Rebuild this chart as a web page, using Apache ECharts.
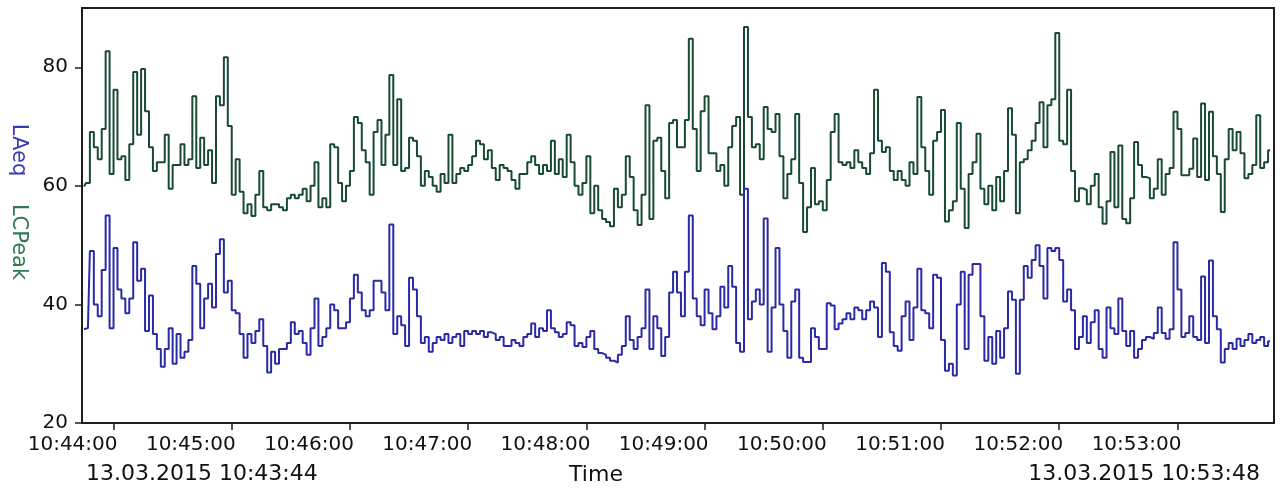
<!DOCTYPE html>
<html>
<head>
<meta charset="utf-8">
<script src="https://cdn.jsdelivr.net/npm/echarts@6/dist/echarts.min.js"></script>
<style>
html,body{margin:0;padding:0;background:#fff;}
#chart{width:1281px;height:492px;}
</style>
</head>
<body>
<div id="chart"></div>
<script>
// Time window: 13.03.2015 10:43:44 .. 10:53:48, samples every 2 s
const startLabel = '13.03.2015 10:43:44';
const endLabel = '13.03.2015 10:53:48';
const axisTitle = 'Time';
const sampleSeconds = 2;
const xTickSeconds = [16, 76, 136, 196, 256, 316, 376, 436, 496, 556];
const xTickLabels = ['10:44:00','10:45:00','10:46:00','10:47:00','10:48:00','10:49:00','10:50:00','10:51:00','10:52:00','10:53:00'];
const yTicks = [20, 40, 60, 80];

const lcpeak = [
 59.9,60.5,69.1,66.5,64.5,69.6,82.7,62,76.2,64.5,65,61,67,79.2,68.6,79.7,72.6,66.5,62.5,64,64,68.6,59.5,63.5,63.5,67,63.5,64.5,75.1,63,68.1,63.5,66,60.5,75.1,73.6,81.7,70.1,58.5,64.5,59,55.4,56.9,54.9,58.5,62.5,56.4,55.9,56.9,56.9,56.4,
 55.9,57.9,58.5,57.9,58.5,59.5,57.4,60,64,56.4,57.9,56.4,67,66.5,60.5,57.4,60,62.5,71.6,70.6,66,64,58.5,69.1,71.1,63.5,68.6,78.7,63.5,74.6,62.5,63,68.1,67.6,65,60,62.5,61.5,60,59,62,60.5,68.6,60.5,62,63,62.5,63.5,65,67.6,
 67,64.5,66,63,61,63.5,63,62.5,61,59.5,62,62,64,65,63.5,62,63.5,62.5,67.6,62,64.5,61.5,68.6,64,60,58.5,60.5,65,55.4,60,55.9,54.4,53.9,53.2,59.5,56.4,58.5,65,61.5,55.9,53.4,58.5,73.6,54.4,67.6,68.1,62.5,57.9,70.6,71.1,66.5,
 66.5,71.1,84.8,69.6,62.5,72.6,75.1,65.5,65.5,62.5,63.5,60,66.5,70.1,71.6,58.5,86.8,71.6,66.5,67,64.5,73.3,69.6,69.1,72.1,65,57.9,62,64.5,72.1,60.5,52.2,56.4,63,56.9,57.4,55.9,61,69.1,72.1,64,63.5,64,63,66,64,63,62,65.5,76.2,67.6,
 65.7,66.5,62.5,61,62.5,61,60,64,62,75,66.5,62.5,58.5,67.6,69.1,72.8,54,55.9,57.4,70.6,59.5,52.9,62,64,68.8,59.5,56.9,60,55.9,61.5,57.4,62.5,73.1,68.6,55.4,64,64.5,66,67.6,70.6,74.1,66.5,73.6,74.6,85.8,67.6,67,76.2,62.5,57.4,
 59.6,59.3,56.9,60,62,56.4,53.6,57.4,65.7,56.4,66.8,54.4,53.7,57.9,67.4,63.5,61.5,61.3,57.9,59.5,64.5,58.5,62,63,72.5,69.6,61.8,61.8,62.9,68,61.5,73.9,61,72.5,65,62,55.6,64.5,69.6,66,69.1,65.5,61.3,62,63.5,71.9,63,64,66
];
const laeq = [
 35.8,36,49,40,38,45.8,55,36,49.5,42.5,41,38.5,41,50.5,44,46,35.5,41.5,35,32.5,29.5,32.5,36,30,35,31,32,34,46.5,43.5,36,41,43.5,39.5,48.5,51,42,44,39,38.5,35,31,35,33.5,35.5,37.5,33,28.5,32,30,32.5,
 32.5,33.5,37,35,35.5,33.5,31.5,36,41,33,34.5,36,40,39,36,36,37,41,45,42,39,38,39,44,44,42,39,53.5,35,38,36.5,33,44.5,42.5,38,33.5,34.5,32,33.5,34.5,34,35,33.5,34.5,35,33,35.5,35,35.5,35,
 35.5,34.5,35.3,35,34,34.5,33,33,34,33.5,33,34.5,35,36.8,34.5,36,35.5,39,36,35.3,34.5,35,37,36.5,33,33.5,32.8,34.5,35.5,32.5,31.8,31.5,31,30.5,30.2,31.5,33,38,34,32.5,34.5,36,42.5,32.5,38,36,31.3,34.5,42,45.5,42,
 38,45.5,55,41,38,36.5,42.5,38.5,35.8,38,43,39.5,46.5,43,33.5,32,59.5,37.5,40.5,42.5,40,54.5,32,39.5,49.5,40,35.5,31,40.5,42.5,31,30.3,30.3,36,34.5,32.5,32.5,40.2,39.8,35.8,36.8,37.5,38.5,37.5,39.5,39,37.5,39,40.5,39.5,34.5,
 47,45.5,35.3,33,32.2,38,40.5,34,39.5,46,39,38.5,36,45,44.5,34,28.8,30,28,40,45.5,32.5,45,46.8,46.8,38,30.5,34.5,30,35.5,31,36,42.2,40.8,28.3,40.8,46.5,44.5,47.5,50,46.5,41,49.5,49,49.5,47.5,40.5,42.5,39,32.5,
 34.5,38,33.5,37,39,32.5,31,39.5,36,35,41,35.5,33,35.5,31,32.5,34,34.5,34.2,35.2,39.5,35.2,34.2,35.8,50.5,42.5,34.5,35.2,38,34.5,34,44.7,33.5,47.4,38,35.8,30.2,32.5,33.5,32.5,34.2,33,34,35,33.5,34,34.5,33,33.8
];

const toPairs = arr => arr.map((v, i) => [i * sampleSeconds + sampleSeconds / 2, v]);

const chart = echarts.init(document.getElementById('chart'));
const font = 'DejaVu Sans';
chart.setOption({
  animation: false,
  backgroundColor: '#ffffff',
  grid: {
    left: 82, right: 7, top: 8, bottom: 69,
    show: true, borderColor: '#1e1e1e', borderWidth: 2, backgroundColor: '#ffffff'
  },
  xAxis: {
    type: 'value', min: 0, max: 605,
    splitLine: { show: false },
    axisLine: { show: true, lineStyle: { color: '#1e1e1e', width: 2 } },
    axisTick: { show: true, customValues: xTickSeconds, length: 7, lineStyle: { color: '#1e1e1e', width: 1.5 } },
    axisLabel: {
      customValues: xTickSeconds,
      formatter: v => xTickLabels[xTickSeconds.indexOf(v)] || '',
      align: 'right', padding: [0, -4, 0, 0],
      margin: 12, color: '#111', fontFamily: font, fontSize: 20
    }
  },
  yAxis: {
    type: 'value', min: 20, max: 90,
    splitLine: { show: false },
    axisLine: { show: true, lineStyle: { color: '#1e1e1e', width: 2 } },
    axisTick: { show: true, customValues: yTicks, length: 7, lineStyle: { color: '#1e1e1e', width: 1.5 } },
    axisLabel: {
      customValues: yTicks,
      margin: 14, color: '#111', fontFamily: font, fontSize: 20
    }
  },
  series: [
    {
      name: 'LCPeak', type: 'line', step: 'middle', showSymbol: false, symbol: 'none',
      data: toPairs(lcpeak),
      lineStyle: { color: '#184a32', width: 2 }, z: 3
    },
    {
      name: 'LAeq', type: 'line', step: 'middle', showSymbol: false, symbol: 'none',
      data: toPairs(laeq),
      lineStyle: { color: '#2a2aa6', width: 2 }, z: 3
    }
  ],
  graphic: [
    { type: 'text', x: 18, y: 150, rotation: -Math.PI / 2,
      style: { text: 'LAeq', fill: '#3a3ab4', font: '21px "DejaVu Sans"', textAlign: 'center', textVerticalAlign: 'middle' } },
    { type: 'text', x: 18, y: 242, rotation: -Math.PI / 2,
      style: { text: 'LCPeak', fill: '#2e7a4e', font: '21px "DejaVu Sans"', textAlign: 'center', textVerticalAlign: 'middle' } },
    { type: 'text', x: 86, y: 474,
      style: { text: startLabel, fill: '#111', font: '22px "DejaVu Sans"', textAlign: 'left', textVerticalAlign: 'middle' } },
    { type: 'text', x: 596, y: 475,
      style: { text: axisTitle, fill: '#111', font: '22px "DejaVu Sans"', textAlign: 'center', textVerticalAlign: 'middle' } },
    { type: 'text', x: 1260, y: 474,
      style: { text: endLabel, fill: '#111', font: '22px "DejaVu Sans"', textAlign: 'right', textVerticalAlign: 'middle' } }
  ]
});
</script>
</body>
</html>
